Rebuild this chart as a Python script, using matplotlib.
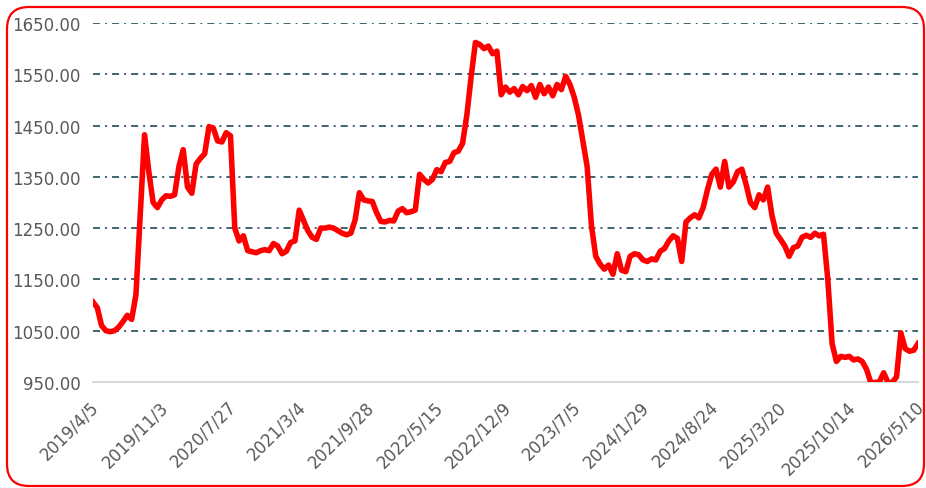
import matplotlib as mpl
import matplotlib.pyplot as plt
from matplotlib.patches import FancyBboxPatch
from matplotlib.transforms import IdentityTransform, ScaledTranslation

# values, 16 points between two date labels
prices = [
    1106, 1095, 1060, 1050, 1048, 1050, 1057, 1068, 1080, 1072, 1120, 1275, 1432, 1360, 1300, 1290,
    1305, 1313, 1312, 1315, 1370, 1403, 1330, 1318, 1375, 1386, 1395, 1448, 1445, 1420, 1418, 1436,
    1430, 1250, 1225, 1235, 1206, 1204, 1202, 1206, 1208, 1206, 1220, 1215, 1200, 1205, 1222, 1225,
    1285, 1265, 1245, 1232, 1228, 1250, 1250, 1252, 1250, 1245, 1240, 1237, 1240, 1266, 1319, 1305,
    1303, 1302, 1280, 1263, 1262, 1265, 1264, 1283, 1288, 1280, 1282, 1285, 1355, 1345, 1338, 1345,
    1364, 1360, 1378, 1380, 1397, 1400, 1415, 1470, 1545, 1612, 1608, 1600, 1605, 1590, 1595, 1510,
    1525, 1515, 1522, 1510, 1526, 1518, 1528, 1505, 1530, 1512, 1525, 1508, 1530, 1520, 1546, 1530,
    1505, 1470, 1420, 1370, 1255, 1195, 1180, 1170, 1178, 1160, 1200, 1168, 1165, 1195, 1200, 1198,
    1188, 1185, 1190, 1188, 1205, 1210, 1225, 1235, 1230, 1185, 1262, 1270, 1276, 1270, 1290, 1325,
    1355, 1365, 1330, 1380, 1330, 1340, 1360, 1365, 1335, 1300, 1290, 1315, 1305, 1330, 1275, 1240,
    1228, 1215, 1195, 1212, 1215, 1232, 1236, 1232, 1240, 1235, 1238, 1150, 1025, 990, 1000, 998,
    1000, 993, 995, 990, 975, 949, 949, 950, 968, 949, 949, 960, 1046, 1015, 1010, 1012,
    1025,
]
date_labels = ["2019/4/5", "2019/11/3", "2020/7/27", "2021/3/4", "2021/9/28", "2022/5/15",
               "2022/12/9", "2023/7/5", "2024/1/29", "2024/8/24", "2025/3/20", "2025/10/14",
               "2026/5/10"]
y_ticks = [950, 1050, 1150, 1250, 1350, 1450, 1550, 1650]
step = 16

fig = plt.figure(figsize=(9.26, 4.89), dpi=100)
ax = fig.add_axes([0.1004, 0.2168, 0.8910, 0.7342])

x = list(range(len(prices)))
ax.plot(x, prices, color="#ff0000", linewidth=4.0, solid_joinstyle="round", zorder=3)

ax.set_xlim(0, len(prices) - 1)
ax.set_ylim(950, 1650)
ax.set_yticks(y_ticks)
ax.set_yticklabels(["%.2f" % v for v in y_ticks])
ax.set_xticks(list(range(0, len(prices), step)))
ax.set_xticklabels(date_labels, rotation=45, ha="right", va="top")

for s in ["top", "right", "left"]:
    ax.spines[s].set_visible(False)
ax.spines["bottom"].set_color("#d9d9d9")
ax.spines["bottom"].set_linewidth(1.5)
ax.spines["bottom"].set_zorder(1)

ax.tick_params(axis="both", length=0, labelsize=12, labelcolor="#595959")
ax.tick_params(axis="y", pad=9)
ax.tick_params(axis="x", pad=11)
offset = ScaledTranslation(7 / 72, 0, fig.dpi_scale_trans)
for lab in ax.get_xticklabels():
    lab.set_transform(lab.get_transform() + offset)

for v in y_ticks[1:]:
    ax.axhline(v, color="#3d6570", linewidth=1.4,
               linestyle=(0, (3.6, 2.6, 1.0, 2.6)), zorder=1)

# rounded red frame round the whole chart
frame = FancyBboxPatch((7, 2), 917, 479, boxstyle="round,pad=0,rounding_size=22",
                       transform=IdentityTransform(), facecolor="none",
                       edgecolor="#ff0000", linewidth=1.6)
fig.patches.append(frame)

fig.savefig("out.png", dpi=100)
